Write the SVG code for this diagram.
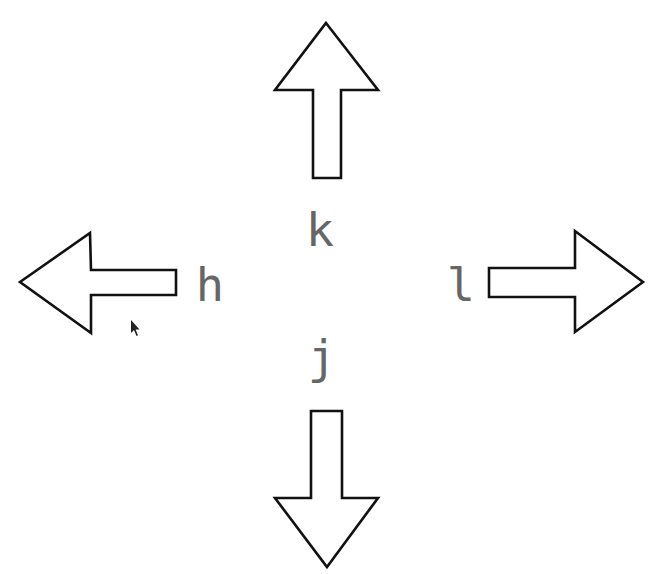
<svg xmlns="http://www.w3.org/2000/svg" width="662" height="574" viewBox="0 0 662 574">
<style>
.arr{fill:#fff;stroke:#111;stroke-width:2.6;stroke-linejoin:miter}
.key{font-family:"DejaVu Sans Mono","Liberation Mono",monospace;font-size:47px;fill:#666;text-anchor:middle}
</style>
<rect width="662" height="574" fill="#fff"/>
<g id="connectors">
<g id="arrow-up"><polygon class="arr" points="326,23 378,90 341,90 341,178 313,178 313,90 275,90"/></g>
<g id="arrow-left"><polygon class="arr" points="20,282 90,233 91,270 176,270 176,295 91,295 91,333"/></g>
<g id="arrow-right"><polygon class="arr" points="643,282 575,231 575,268 489,268 489,297 575,297 575,332"/></g>
<g id="arrow-down"><polygon class="arr" points="327,567 378,498 342,498 342,411 311,411 311,498 275,498"/></g>
</g>
<g id="node-k"><text class="key" x="320" y="246">k</text></g>
<g id="node-h"><text class="key" x="210" y="301">h</text></g>
<g id="node-l"><text class="key" x="461" y="301">l</text></g>
<g id="node-j"><text class="key" x="322" y="373">j</text></g>
<g id="cursor"><polygon points="131,320 131,333 134,330 136.5,336 138,335.3 135.6,329.6 139.5,329.5" fill="#222"/></g>
</svg>
